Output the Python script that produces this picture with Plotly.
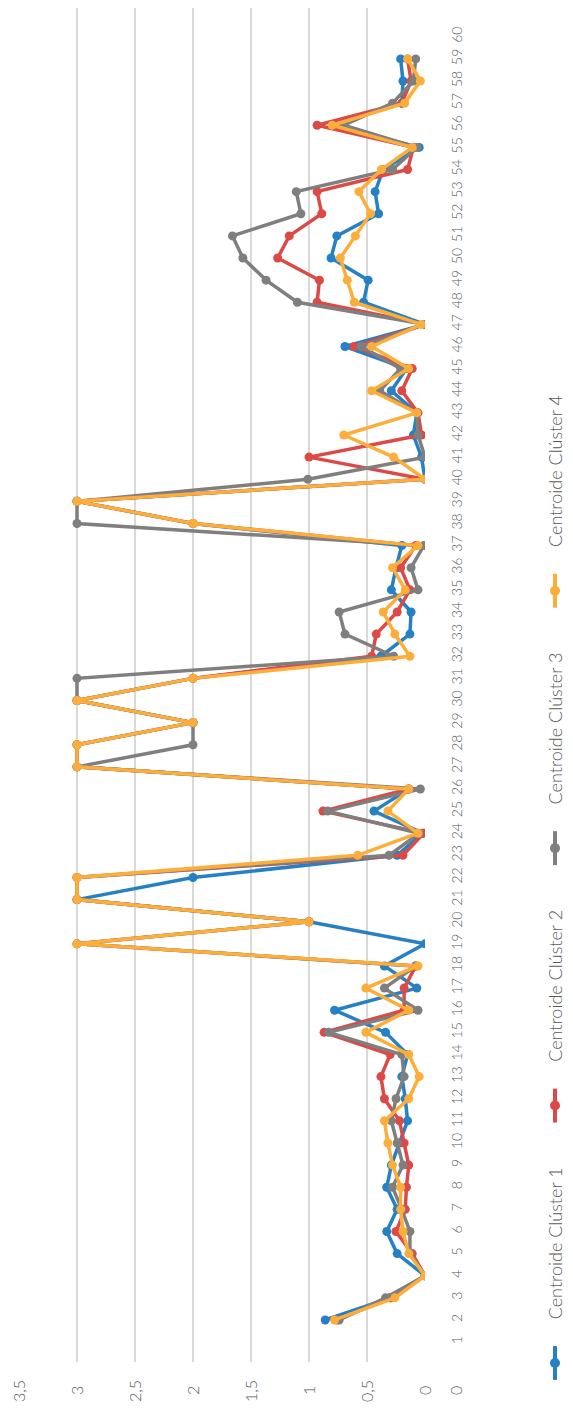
import plotly.graph_objects as go

categories = list(range(2, 60))

cluster1 = [0.86, 0.30, 0, 0.24, 0.33, 0.24, 0.33, 0.29, 0.22, 0.15, 0.17, 0.20, 0.15, 0.34, 0.78, 0.07, 0.35,
            0, 1, 3, 2, 0.24, 0.02, 0.44, 0.14, 3, 3, 2, 3, 2, 0.38, 0.13, 0.12, 0.29, 0.25, 0.20, 2, 3,
            0, 0.03, 0.10, 0.07, 0.29, 0.16, 0.69, 0, 0.53, 0.49, 0.81, 0.76, 0.40, 0.43, 0.36, 0.05, 0.80,
            0.20, 0.19, 0.21]
cluster2 = [0.76, 0.30, 0, 0.11, 0.25, 0.17, 0.16, 0.14, 0.18, 0.22, 0.35, 0.38, 0.30, 0.87, 0.18, 0.18, 0.08,
            3, 1, 3, 3, 0.19, 0.01, 0.88, 0.14, 3, 3, 2, 3, 2, 0.46, 0.42, 0.24, 0.13, 0.21, 0.08, 2, 3,
            0, 1.0, 0.03, 0.06, 0.20, 0.11, 0.61, 0, 0.93, 0.91, 1.27, 1.17, 0.89, 0.93, 0.15, 0.10, 0.93,
            0.20, 0.12, 0.15]
cluster3 = [0.74, 0.34, 0, 0.13, 0.13, 0.20, 0.28, 0.19, 0.24, 0.29, 0.25, 0.18, 0.20, 0.83, 0.06, 0.35, 0.08,
            3, 1, 3, 3, 0.31, 0.05, 0.84, 0.04, 3, 2, 2, 3, 3, 0.27, 0.69, 0.74, 0.06, 0.12, 0.01, 3, 3,
            1.01, 0, 0.06, 0.07, 0.39, 0.21, 0.55, 0, 1.10, 1.37, 1.57, 1.66, 1.07, 1.11, 0.28, 0.07, 0.70,
            0.28, 0.10, 0.08]
cluster4 = [0.78, 0.26, 0, 0.14, 0.19, 0.21, 0.21, 0.28, 0.32, 0.35, 0.14, 0.05, 0.14, 0.51, 0.14, 0.51, 0.06,
            3, 1, 3, 3, 0.58, 0.06, 0.32, 0.14, 3, 3, 2, 3, 2, 0.13, 0.26, 0.36, 0.17, 0.28, 0.06, 2, 3,
            0, 0.27, 0.70, 0.07, 0.46, 0.14, 0.46, 0.03, 0.61, 0.67, 0.73, 0.60, 0.47, 0.57, 0.375, 0.11, 0.80,
            0.175, 0.04, 0.15]

series_names = ["Centroide Clúster 1", "Centroide Clúster 2", "Centroide Clúster 3", "Centroide Clúster 4"]
series_values = [cluster1, cluster2, cluster3, cluster4]
colors = ["#2581c4", "#db4a47", "#7f7f7f", "#fdae3a"]

value_ticks = [0, 0.5, 1, 1.5, 2, 2.5, 3, 3.5]
value_tick_text = ["0", "0,5", "1", "1,5", "2", "2,5", "3", "3,5"]
cat_ticks = list(range(1, 61))
cat_tick_text = [str(c) for c in cat_ticks]

OFF = 8  # default page body margin
W, H = 573 - 2 * OFF, 1418 - 2 * OFF
PL, PR, PT, PB = 19, 425, 5, 1362

def px(x):
    return (x - PL) / (PR - PL)

def py(y):
    return (PB - y) / (PB - PT)

fig = go.Figure()
for name, vals, col in zip(series_names, series_values, colors):
    fig.add_trace(go.Scatter(
        x=vals, y=categories, mode="lines+markers", name=name,
        line=dict(color=col, width=3.5), marker=dict(color=col, size=9),
        showlegend=False,
    ))

font_family = "Lato"
text_color = "#595959"
light = dict(family=font_family, color=text_color, weight=300)

fig.update_layout(
    width=W, height=H,
    margin=dict(l=PL - OFF, r=(W + OFF) - PR, t=max(PT - OFF, 0), b=(H + OFF) - PB),
    paper_bgcolor="white", plot_bgcolor="white",
    font=dict(family=font_family, color=text_color, size=14),
    xaxis=dict(
        range=[3.5, 0], tickvals=value_ticks, showticklabels=False,
        showgrid=True, gridcolor="#d9d9d9", gridwidth=2,
        zeroline=False, showline=False, ticks="", automargin=False,
    ),
    yaxis=dict(
        range=[0.1, 61.3], side="right", tickvals=cat_ticks, ticktext=cat_tick_text,
        tickangle=-90, showgrid=False, zeroline=False, showline=False, ticks="", automargin=False,
        ticklabelstandoff=22,
        tickfont=dict(size=14, **light),
    ),
)

for v, t in zip(value_ticks, value_tick_text):
    fig.add_annotation(x=v, y=py(1391), xref="x", yref="paper", text=t,
                       showarrow=False, textangle=-90, xanchor="center", yanchor="middle",
                       font=dict(size=16, **light))

fig.add_annotation(x=px(456), y=py(1391), xref="paper", yref="paper", text="0",
                   showarrow=False, textangle=-90, xanchor="center", yanchor="middle",
                   font=dict(size=16, **light))

leg_x = 555
for i, (name, col) in enumerate(zip(series_names, colors)):
    ym = 1363 - 258 * i
    fig.add_shape(type="line", xref="paper", yref="paper",
                  x0=px(leg_x), x1=px(leg_x), y0=py(ym - 17), y1=py(ym + 17),
                  line=dict(color=col, width=4))
    r = 5
    fig.add_shape(type="circle", xref="paper", yref="paper",
                  x0=px(leg_x - r), x1=px(leg_x + r), y0=py(ym + r), y1=py(ym - r),
                  fillcolor=col, line=dict(color=col, width=0))
    fig.add_annotation(x=px(leg_x), y=py(ym - 120), xref="paper", yref="paper", text=name,
                       showarrow=False, textangle=-90, xanchor="center", yanchor="middle",
                       font=dict(size=18, **light))

fig.write_html("out.html")
